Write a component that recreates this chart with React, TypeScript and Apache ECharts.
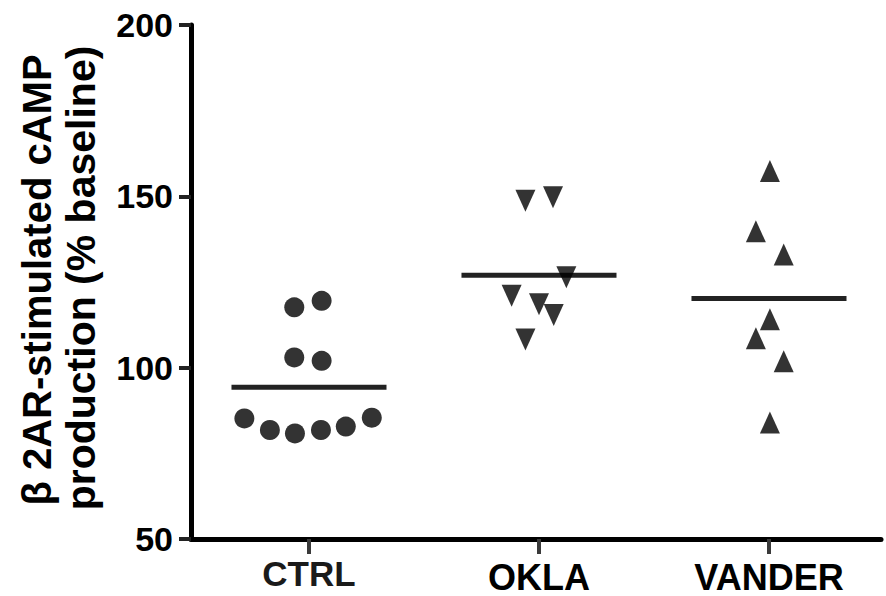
import React, { useEffect, useRef } from "react";
import * as echarts from "echarts";

// ---- data ----
const categories = ["CTRL", "OKLA", "VANDER"];
const categoryPos = [1, 2, 3];

const ctrlX = [0.936, 1.055, 0.936, 1.055, 0.719, 0.83, 0.939, 1.052, 1.16, 1.273];
const ctrlY = [117.6, 119.5, 103.0, 102.0, 85.2, 81.8, 80.8, 81.8, 82.8, 85.4];

const oklaX = [1.941, 2.061, 2.119, 1.881, 2.0, 2.064, 1.941];
const oklaY = [148.7, 149.7, 126.4, 121.0, 118.5, 115.4, 108.2];

const vanderX = [3.004, 2.943, 3.064, 3.004, 2.943, 3.064, 3.004];
const vanderY = [157.4, 139.8, 133.0, 114.1, 108.6, 101.9, 84.0];

const groupMeans = [94.3, 127.0, 120.2];
const meanHalfWidth = 0.337;

const yTicks = { min: 50, max: 200, interval: 50 };
const titleLine1 = "\u03b2 2AR-stimulated cAMP";
const titleLine2 = "production (% baseline)";

const zip = (xs: number[], ys: number[]) => xs.map((x, i) => [x, ys[i]]);

export default function App() {
  const ref = useRef<HTMLDivElement>(null);
  useEffect(() => {
    if (!ref.current) return;
    const chart = echarts.init(ref.current, null, { renderer: "svg" });
    const font = "Liberation Sans, Arial, sans-serif";
    chart.setOption({
      animation: false,
      backgroundColor: "#ffffff",
      grid: { left: 191, right: 5, top: 25, bottom: 57, containLabel: false, outerBoundsMode: "none" },
      xAxis: {
        type: "value",
        min: 0.487,
        max: 3.487,
        splitLine: { show: false },
        axisLine: { show: true, lineStyle: { color: "#000", width: 5 } },
        axisTick: { show: true, customValues: categoryPos, length: 15, lineStyle: { color: "#3a3a3a", width: 4 } },
        axisLabel: {
          show: true,
          customValues: categoryPos,
          margin: 23,
          formatter: (v: number) => {
            const name = categories[Math.round(v) - 1] ?? "";
            return name === "CTRL" ? `{c|${name}}` : `{o|${name}}`;
          },
          rich: {
            c: { fontFamily: font, fontSize: 35, fontWeight: "bold", color: "#1a1a1a", lineHeight: 22 },
            o: { fontFamily: font, fontSize: 36, fontWeight: "bold", color: "#000", lineHeight: 30 },
          },
        },
      },
      yAxis: {
        type: "value",
        min: yTicks.min,
        max: yTicks.max,
        interval: yTicks.interval,
        splitLine: { show: false },
        axisLine: { show: true, lineStyle: { color: "#000", width: 5 } },
        axisTick: { show: true, length: 12, lineStyle: { color: "#222", width: 4 } },
        axisLabel: { margin: 18, fontFamily: font, fontSize: 34, fontWeight: "bold", color: "#000" },
      },
      graphic: [
        {
          type: "text",
          x: 37,
          y: 280,
          rotation: Math.PI / 2,
          style: {
            text: titleLine1,
            font: `bold 40px ${font}`,
            fill: "#000",
            textAlign: "center",
            textVerticalAlign: "middle",
          },
        },
        {
          type: "text",
          x: 81,
          y: 278,
          rotation: Math.PI / 2,
          style: {
            text: titleLine2,
            font: `bold 41px ${font}`,
            fill: "#000",
            textAlign: "center",
            textVerticalAlign: "middle",
          },
        },
      ],
      series: [
        {
          type: "custom",
          z: 1,
          data: categoryPos.map((c, i) => [c, groupMeans[i]]),
          renderItem: (params: any, api: any) => {
            const c = api.value(0);
            const m = api.value(1);
            const p1 = api.coord([c - meanHalfWidth, m]);
            const p2 = api.coord([c + meanHalfWidth, m]);
            return {
              type: "line",
              shape: { x1: p1[0], y1: p1[1], x2: p2[0], y2: p2[1] },
              style: { stroke: "#222", lineWidth: 5 },
            };
          },
        },
        {
          type: "scatter",
          z: 2,
          symbol: "circle",
          symbolSize: 20,
          itemStyle: { color: "#000" },
          data: zip(ctrlX, ctrlY),
        },
        {
          type: "scatter",
          z: 2,
          symbol: "triangle",
          symbolSize: [20, 22],
          symbolRotate: 180,
          itemStyle: { color: "#000" },
          data: zip(oklaX, oklaY),
        },
        {
          type: "scatter",
          z: 2,
          symbol: "triangle",
          symbolSize: [20, 22],
          itemStyle: { color: "#000" },
          data: zip(vanderX, vanderY),
        },
      ],
    });
    return () => chart.dispose();
  }, []);
  return (
    <div
      ref={ref}
      style={{ position: "fixed", left: 0, top: 0, width: 886, height: 596, background: "#fff" }}
    />
  );
}
